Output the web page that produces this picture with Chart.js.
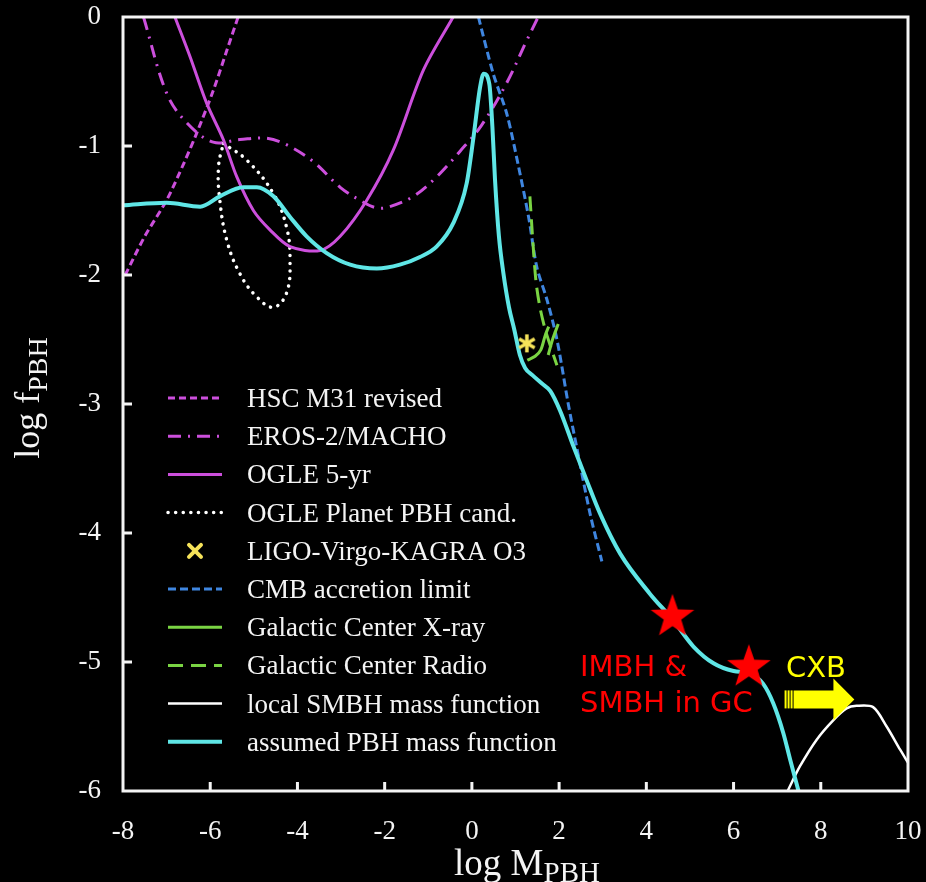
<!DOCTYPE html>
<html>
<head>
<meta charset="utf-8">
<script src="https://cdn.jsdelivr.net/npm/chart.js@4.4.1/dist/chart.umd.min.js"></script>
<style>
  html, body { margin: 0; padding: 0; background: #000; }
  #wrap { width: 926px; height: 882px; }
</style>
</head>
<body>
<div id="wrap"><canvas id="chart" width="926" height="882"></canvas></div>
<script>
// ---- tick values ----
const xTickValues = [-8, -6, -4, -2, 0, 2, 4, 6, 8, 10];
const yTickValues = [0, -1, -2, -3, -4, -5, -6];

// ---- constraint curves: log M (x) and log f (y) ----
const hscX = [-7.95, -7.5, -7.0, -6.6, -6.31, -5.93, -5.62, -5.36];
const hscY = [-2.00, -1.70, -1.42, -1.13, -0.90, -0.57, -0.26, 0.00];

const erosX = [-7.53, -7.0, -6.54, -5.93, -5.32, -4.70, -4.25, -3.64, -3.02, -2.57, -2.18, -1.88, -1.34, -0.81, -0.27, 0.22, 0.80, 1.26, 1.52];
const erosY = [0.00, -0.59, -0.82, -0.97, -0.95, -0.94, -0.99, -1.12, -1.32, -1.42, -1.48, -1.47, -1.39, -1.24, -1.04, -0.84, -0.51, -0.18, 0.00];

const ogleX = [-6.81, -6.46, -6.08, -5.70, -5.39, -5.01, -4.63, -4.17, -3.48, -3.02, -2.41, -1.80, -1.11, -0.43];
const ogleY = [0.00, -0.31, -0.67, -0.95, -1.24, -1.50, -1.65, -1.78, -1.81, -1.70, -1.42, -1.03, -0.41, 0.00];

const planetX = [-5.70, -5.16, -4.55, -4.25, -4.17, -4.25, -4.55, -4.93, -5.32, -5.62, -5.78, -5.81, -5.70];
const planetY = [-0.98, -1.11, -1.37, -1.63, -1.88, -2.14, -2.25, -2.17, -1.99, -1.73, -1.42, -1.16, -0.98];

const ligoX = [1.26];
const ligoY = [-2.53];

const cmbX = [0.15, 0.49, 0.80, 1.07, 1.30, 1.49, 1.72, 1.95, 2.21, 2.40, 2.71, 2.98];
const cmbY = [0.00, -0.44, -0.75, -1.16, -1.55, -1.94, -2.19, -2.50, -3.00, -3.33, -3.85, -4.22];

const xrayX = [1.27, 1.45, 1.58, 1.68, 1.76, 1.87, 1.98, 1.85, 1.75];
const xrayY = [-2.66, -2.63, -2.58, -2.47, -2.40, null, -2.38, -2.50, -2.62];

const radioX = [1.33, 1.40, 1.47, 1.56, 1.68, 1.82, 1.95];
const radioY = [-1.39, -1.75, -2.05, -2.25, -2.42, -2.57, -2.70];

const smbhX = [7.24, 7.52, 7.91, 8.29, 8.59, 8.82, 9.20, 9.51, 9.82, 10.0];
const smbhY = [-6.00, -5.81, -5.60, -5.45, -5.36, -5.34, -5.35, -5.50, -5.68, -5.78];

const pbhX = [-8.0, -7.0, -6.23, -5.78, -5.24, -4.93, -4.55, -4.17, -3.79, -3.33, -2.79, -2.18, -1.65, -1.19, -0.81, -0.43, -0.12, 0.03, 0.19, 0.27, 0.40, 0.47, 0.53, 0.62, 0.72, 0.85, 0.97, 1.10, 1.22, 1.40, 1.60, 1.80, 2.02, 2.33, 2.63, 2.94, 3.40, 4.08, 4.60, 5.08, 5.54, 6.00, 6.38, 6.68, 6.91, 7.14, 7.30, 7.49];
const pbhY = [-1.46, -1.44, -1.47, -1.39, -1.32, -1.32, -1.39, -1.55, -1.70, -1.83, -1.92, -1.95, -1.92, -1.86, -1.78, -1.60, -1.29, -0.95, -0.54, -0.44, -0.52, -0.85, -1.26, -1.70, -1.98, -2.25, -2.42, -2.62, -2.72, -2.78, -2.84, -2.90, -3.05, -3.33, -3.59, -3.85, -4.16, -4.47, -4.67, -4.88, -5.01, -5.07, -5.09, -5.17, -5.32, -5.55, -5.76, -6.00];

// IMBH & SMBH in globular clusters
const starX = [4.60, 6.35];
const starY = [-4.65, -5.04];

// annotation anchors (data units)
const gcLabelX = 2.48, gcLabelY = [-5.11, -5.39];
const cxbLabelX = 7.20, cxbLabelY = -5.12;
const cxbArrow = { xStart: 7.17, xBody: 8.29, xTip: 8.77, y: -5.29 };

const pts = (xs, ys) => xs.map((x, i) => ({ x: x, y: ys[i] }));

const MAGENTA = '#cc4fdc';
const CYAN = '#5fe6e6';
const BLUE = '#3f86e0';
const GREEN = '#7ad443';
const YELLOW_MARK = '#f6e35a';

function starImage(r, color) {
  const c = document.createElement('canvas');
  c.width = c.height = Math.ceil(2 * r + 2);
  const g = c.getContext('2d');
  g.fillStyle = color;
  g.beginPath();
  for (let i = 0; i < 10; i++) {
    const rad = i % 2 ? r * 0.4 : r;
    const a = -Math.PI / 2 + i * Math.PI / 5;
    g.lineTo(c.width / 2 + rad * Math.cos(a), c.height / 2 + rad * Math.sin(a));
  }
  g.closePath();
  g.fill();
  return c;
}

function asteriskImage(r, color, lw) {
  const c = document.createElement('canvas');
  c.width = c.height = Math.ceil(2 * r + lw + 2);
  const g = c.getContext('2d');
  g.strokeStyle = color;
  g.lineWidth = lw;
  g.lineCap = 'butt';
  const cx = c.width / 2, cy = c.height / 2;
  [90, 30, 150].forEach(deg => {
    const a = deg * Math.PI / 180;
    g.beginPath();
    g.moveTo(cx - r * Math.cos(a), cy - r * Math.sin(a));
    g.lineTo(cx + r * Math.cos(a), cy + r * Math.sin(a));
    g.stroke();
  });
  return c;
}

const lineDefaults = { showLine: true, pointRadius: 0, pointHoverRadius: 0, fill: false };

const datasets = [
  Object.assign({ label: 'HSC M31 revised', data: pts(hscX, hscY), borderColor: MAGENTA, borderWidth: 3, borderDash: [7, 4], tension: 0.3, order: 3 }, lineDefaults),
  Object.assign({ label: 'EROS-2/MACHO', data: pts(erosX, erosY), borderColor: MAGENTA, borderWidth: 3, borderDash: [13, 7, 2, 7], tension: 0.35, order: 3 }, lineDefaults),
  Object.assign({ label: 'OGLE 5-yr', data: pts(ogleX, ogleY), borderColor: MAGENTA, borderWidth: 3, tension: 0.3, order: 3 }, lineDefaults),
  Object.assign({ label: 'OGLE Planet PBH cand.', data: pts(planetX, planetY), borderColor: '#ffffff', borderWidth: 3.5, borderDash: [0.1, 7.5], borderCapStyle: 'round', tension: 0.4, order: 3 }, lineDefaults),
  { label: 'LIGO-Virgo-KAGRA O3', data: pts(ligoX, ligoY), showLine: false, pointStyle: asteriskImage(9, YELLOW_MARK, 3.5), pointRadius: 9, pointHoverRadius: 9, legendMark: 'x', borderColor: YELLOW_MARK, backgroundColor: YELLOW_MARK, order: 1 },
  Object.assign({ label: 'CMB accretion limit', data: pts(cmbX, cmbY), borderColor: BLUE, borderWidth: 3, borderDash: [8, 4], tension: 0.3, order: 3 }, lineDefaults),
  Object.assign({ label: 'Galactic Center X-ray', data: pts(xrayX, xrayY), borderColor: GREEN, borderWidth: 3, tension: 0.3, spanGaps: false, order: 2 }, lineDefaults),
  Object.assign({ label: 'Galactic Center Radio', data: pts(radioX, radioY), borderColor: GREEN, borderWidth: 3, borderDash: [15, 8], tension: 0.3, order: 2 }, lineDefaults),
  Object.assign({ label: 'local SMBH mass function', data: pts(smbhX, smbhY), borderColor: '#ffffff', borderWidth: 2.5, tension: 0.3, order: 3 }, lineDefaults),
  Object.assign({ label: 'assumed PBH mass function', data: pts(pbhX, pbhY), borderColor: CYAN, borderWidth: 4, cubicInterpolationMode: 'monotone', order: 1 }, lineDefaults),
  { label: 'IMBH & SMBH in GC', data: pts(starX, starY), showLine: false, pointStyle: starImage(23, '#ff0000'), pointRadius: 22, pointHoverRadius: 22, noLegend: true, order: 0 }
];

// ---- frame and inward tick marks ----
const framePlugin = {
  id: 'frame',
  afterDatasetsDraw(chart) {
    const { ctx, chartArea: a, scales } = chart;
    ctx.save();
    ctx.strokeStyle = '#f4f4f4';
    ctx.lineWidth = 3;
    ctx.strokeRect(a.left, a.top, a.right - a.left, a.bottom - a.top);
    const tl = 9;
    xTickValues.forEach(v => {
      if (v === scales.x.min || v === scales.x.max) return;
      const px = scales.x.getPixelForValue(v);
      ctx.beginPath(); ctx.moveTo(px, a.bottom); ctx.lineTo(px, a.bottom - tl); ctx.stroke();
    });
    yTickValues.forEach(v => {
      if (v === scales.y.min || v === scales.y.max) return;
      const py = scales.y.getPixelForValue(v);
      ctx.beginPath(); ctx.moveTo(a.left, py); ctx.lineTo(a.left + tl, py); ctx.stroke();
    });
    ctx.restore();
  }
};

// ---- legend inside the plot ----
const legendPlugin = {
  id: 'innerLegend',
  afterDraw(chart) {
    const { ctx } = chart;
    const x0 = 168, x1 = 222, tx = 247, y0 = 398, step = 38.2;
    ctx.save();
    ctx.font = '27px "Liberation Serif", "Times New Roman", serif';
    ctx.textBaseline = 'alphabetic';
    ctx.textAlign = 'left';
    let row = 0;
    chart.data.datasets.forEach(ds => {
      if (ds.noLegend) return;
      const y = y0 + row * step;
      if (ds.legendMark === 'x') {
        ctx.strokeStyle = ds.borderColor;
        ctx.lineWidth = 4;
        ctx.setLineDash([]);
        const cx = (x0 + x1) / 2, r = 6;
        ctx.beginPath();
        ctx.moveTo(cx - r, y - r); ctx.lineTo(cx + r, y + r);
        ctx.moveTo(cx + r, y - r); ctx.lineTo(cx - r, y + r);
        ctx.stroke();
      } else {
        ctx.strokeStyle = ds.borderColor;
        ctx.lineWidth = ds.borderWidth;
        ctx.lineCap = ds.borderCapStyle || 'butt';
        ctx.setLineDash(ds.borderDash || []);
        ctx.beginPath();
        ctx.moveTo(x0, y); ctx.lineTo(x1, y);
        ctx.stroke();
      }
      ctx.setLineDash([]);
      ctx.fillStyle = '#f4f4f4';
      ctx.fillText(ds.label, tx, y + 9);
      row++;
    });
    ctx.restore();
  }
};

// ---- red / yellow annotations ----
const annotationPlugin = {
  id: 'annotations',
  afterDraw(chart) {
    const { ctx, scales: { x, y } } = chart;
    ctx.save();
    ctx.font = '29px "DejaVu Sans", Verdana, sans-serif';
    ctx.textAlign = 'left';
    ctx.textBaseline = 'alphabetic';
    ctx.fillStyle = '#ff0000';
    ctx.fillText('IMBH &', x.getPixelForValue(gcLabelX), y.getPixelForValue(gcLabelY[0]));
    ctx.fillText('SMBH in GC', x.getPixelForValue(gcLabelX), y.getPixelForValue(gcLabelY[1]));
    ctx.fillStyle = '#ffff00';
    ctx.fillText('CXB', x.getPixelForValue(cxbLabelX), y.getPixelForValue(cxbLabelY));

    // arrow pointing to larger masses
    const xs = x.getPixelForValue(cxbArrow.xStart);
    const xb = x.getPixelForValue(cxbArrow.xBody);
    const xt = x.getPixelForValue(cxbArrow.xTip);
    const yc = y.getPixelForValue(cxbArrow.y);
    const hb = 9, hh = 21;
    ctx.fillStyle = '#ffff00';
    for (let i = 0; i < 3; i++) ctx.fillRect(xs + i * 3, yc - hb, 2, 2 * hb);
    ctx.beginPath();
    ctx.moveTo(xs + 9, yc - hb);
    ctx.lineTo(xb, yc - hb);
    ctx.lineTo(xb, yc - hh);
    ctx.lineTo(xt, yc);
    ctx.lineTo(xb, yc + hh);
    ctx.lineTo(xb, yc + hb);
    ctx.lineTo(xs + 9, yc + hb);
    ctx.closePath();
    ctx.fill();
    ctx.restore();
  }
};

// ---- axis titles with subscripts ----
function drawSubscripted(ctx, main, sub, cx, baseline, mainPx, subPx, drop) {
  const fam = '"Liberation Serif", "Times New Roman", serif';
  ctx.font = mainPx + 'px ' + fam;
  const wm = ctx.measureText(main).width;
  ctx.font = subPx + 'px ' + fam;
  const ws = ctx.measureText(sub).width;
  const start = cx - (wm + ws) / 2;
  ctx.font = mainPx + 'px ' + fam;
  ctx.fillText(main, start, baseline);
  ctx.font = subPx + 'px ' + fam;
  ctx.fillText(sub, start + wm, baseline + drop);
}

const titlePlugin = {
  id: 'axisTitles',
  afterDraw(chart) {
    const { ctx } = chart;
    ctx.save();
    ctx.fillStyle = '#f4f4f4';
    ctx.textAlign = 'left';
    ctx.textBaseline = 'alphabetic';
    drawSubscripted(ctx, 'log M', 'PBH', 527, 875, 37, 29, 7);
    ctx.translate(39, 398);
    ctx.rotate(-Math.PI / 2);
    drawSubscripted(ctx, 'log f', 'PBH', 0, 0, 36, 28, 8);
    ctx.restore();
  }
};

const tickFont = { family: '"Liberation Serif", "Times New Roman", serif', size: 27 };

new Chart(document.getElementById('chart'), {
  type: 'scatter',
  data: { datasets: datasets },
  options: {
    responsive: false,
    animation: false,
    devicePixelRatio: 1,
    events: [],
    layout: { autoPadding: false, padding: { left: 0, top: 17, right: 18, bottom: 0 } },
    plugins: { legend: { display: false }, tooltip: { enabled: false } },
    scales: {
      x: {
        type: 'linear', min: -8, max: 10,
        grid: { display: false, drawTicks: false }, border: { display: false },
        ticks: { color: '#f4f4f4', font: tickFont, padding: 25, maxRotation: 0 },
        afterBuildTicks: s => { s.ticks = xTickValues.map(v => ({ value: v })); },
        afterFit: s => { s.height = 91; s.paddingLeft = 0; s.paddingRight = 0; }
      },
      y: {
        type: 'linear', min: -6, max: 0,
        grid: { display: false, drawTicks: false }, border: { display: false },
        ticks: { color: '#f4f4f4', font: tickFont, padding: 22 },
        afterBuildTicks: s => { s.ticks = yTickValues.map(v => ({ value: v })); },
        afterFit: s => { s.width = 123; s.paddingTop = 0; s.paddingBottom = 0; }
      }
    }
  },
  plugins: [framePlugin, legendPlugin, annotationPlugin, titlePlugin]
});
</script>
</body>
</html>
